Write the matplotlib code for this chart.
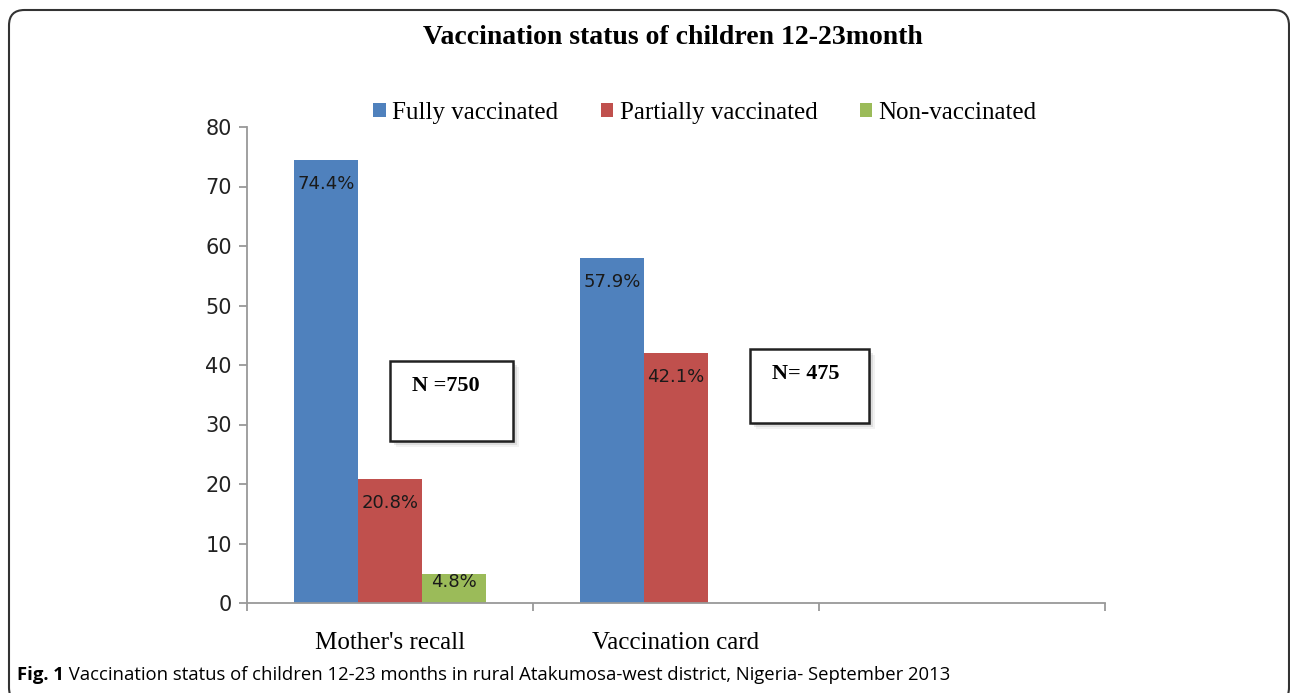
import numpy as np
import matplotlib
matplotlib.use("Agg")
import matplotlib.pyplot as plt
from matplotlib.patches import FancyBboxPatch, Rectangle

categories = ["Mother's recall", "Vaccination card", ""]
series_names = ["Fully vaccinated", "Partially vaccinated", "Non-vaccinated"]
fully = [74.4, 57.9, np.nan]
partially = [20.8, 42.1, np.nan]
non_vacc = [4.8, np.nan, np.nan]
yticks = [0, 10, 20, 30, 40, 50, 60, 70, 80]
title = "Vaccination status of children 12-23month"
caption_bold = "Fig. 1"
caption_text = " Vaccination status of children 12-23 months in rural Atakumosa-west district, Nigeria- September 2013"
n_labels = ["N =750", "N= 475"]

colors = ["#4F81BD", "#C0504D", "#9BBB59"]

W, H = 1290, 693
fig = plt.figure(figsize=(W / 100, H / 100), dpi=100)
fig.patch.set_facecolor("white")

def px(x0, y0, x1, y1):
    # pixel box (top-left origin) -> figure fraction rect
    return [x0 / W, 1 - y1 / H, (x1 - x0) / W, (y1 - y0) / H]

# outer rounded frame
frame = FancyBboxPatch((9 / W, -10 / H), (1289 - 9) / W, (683 + 10) / H,
                       boxstyle="round,pad=0,rounding_size=0.012",
                       transform=fig.transFigure, fill=False,
                       edgecolor="#333333", linewidth=1.5, clip_on=False,
                       mutation_aspect=W / H)
fig.patches.append(frame)

ax = fig.add_axes(px(247, 127, 1105, 603))
x = np.arange(len(categories))
bw = 0.223
series = [fully, partially, non_vacc]
for i, (vals, name, c) in enumerate(zip(series, series_names, colors)):
    bars = ax.bar(x + (i - 1) * bw, vals, width=bw, color=c, label=name,
                  edgecolor="none", zorder=2)
    for b, v in zip(bars, vals):
        if np.isnan(v):
            continue
        hpx = v / 80 * (603 - 127)
        off = -24 if hpx > 60 else -8
        ax.annotate(f"{v}%", (b.get_x() + b.get_width() / 2, v),
                    xytext=(0, off * 0.72), textcoords="offset points",
                    ha="center", va="center", fontsize=13,
                    color="#1a1a1a", family="DejaVu Sans", zorder=3)

ax.set_xlim(-0.5, 2.5)
ax.set_ylim(0, 80)
ax.set_yticks(yticks)
ax.set_xticks(x)
ax.set_xticklabels(categories, family="Liberation Serif", fontsize=18)
ax.set_xticks([-0.5, 0.5, 1.5, 2.5], minor=True)
ax.tick_params(axis="x", which="major", length=0, pad=21, colors="black")
ax.tick_params(axis="x", which="minor", length=6, direction="out",
               color="#999999", width=1.3)
ax.tick_params(axis="y", length=6, direction="out", color="#999999",
               width=1.3, labelsize=15, labelcolor="#222222", pad=5)
for s in ["top", "right"]:
    ax.spines[s].set_visible(False)
for s in ["left", "bottom"]:
    ax.spines[s].set_color("#999999")
    ax.spines[s].set_linewidth(1.3)

leg = ax.legend(loc="upper center", bbox_to_anchor=(705 / W, 1 - 92 / H),
                bbox_transform=fig.transFigure, ncol=3, frameon=False,
                prop={"family": "Liberation Serif", "size": 18},
                handlelength=0.5, handleheight=0.5, handletextpad=0.25,
                columnspacing=1.7, borderaxespad=0)

fig.text(673 / W, 1 - 37 / H, title, ha="center", va="center",
         family="Liberation Serif", fontweight="bold", fontsize=20)

# N boxes with shadow
boxes = [(390, 361, 513, 441), (750, 349, 869, 423)]
for (x0, y0, x1, y1), lab in zip(boxes, n_labels):
    for k, a in [(6, 0.10), (4, 0.18), (2, 0.30)]:
        sh = Rectangle(((x0 + k) / W, 1 - (y1 + k) / H),
                       (x1 - x0) / W, (y1 - y0) / H, transform=fig.transFigure,
                       facecolor="#808080", alpha=a, edgecolor="none", zorder=4)
        fig.patches.append(sh)
    r = Rectangle((x0 / W, 1 - y1 / H), (x1 - x0) / W, (y1 - y0) / H,
                  transform=fig.transFigure, facecolor="white",
                  edgecolor="#222222", linewidth=1.8, zorder=5)
    fig.patches.append(r)
    fig.text((x0 + 22) / W, 1 - (y0 + 25) / H, lab, ha="left", va="center",
             family="Liberation Serif", fontweight="bold", fontsize=16,
             zorder=6)

t1 = fig.text(17 / W, 1 - 675 / H, caption_bold, ha="left", va="center",
              family="Open Sans", fontweight="bold", fontsize=13.3)
fig.canvas.draw()
bb = t1.get_window_extent()
fig.text(bb.x1 / W, 1 - 675 / H, caption_text, ha="left", va="center",
         family="Open Sans", fontsize=13.3)

fig.savefig("out.png", dpi=100)
